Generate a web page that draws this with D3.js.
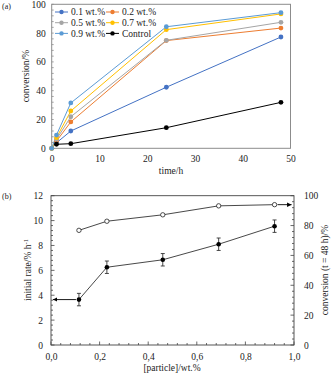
<!DOCTYPE html>
<html><head><meta charset="utf-8">
<script src="https://cdn.jsdelivr.net/npm/d3@7"></script>
<style>body{margin:0;background:#fff}svg text{font-family:"Liberation Serif","Times New Roman","DejaVu Serif",serif !important}</style>
</head><body><svg id="c" width="331" height="374" font-family="Liberation Serif"></svg>
<script>
// Panel (a)
const times = [0, 1, 4, 24, 48];
const seriesNames = ["0.1 wt.%", "0.2 wt.%", "0.5 wt.%", "0.7 wt.%", "0.9 wt.%", "Control"];
const seriesColors = ["#4472C4", "#ED7D31", "#A5A5A5", "#FFC000", "#5B9BD5", "#000000"];
const s01 = [0, 3.8, 12.0, 42.4, 77.3];
const s02 = [0, 5.0, 18.3, 74.8, 83.5];
const s05 = [0, 6.2, 21.9, 75.0, 87.5];
const s07 = [0, 7.4, 25.9, 82.4, 93.3];
const s09 = [0, 9.2, 31.5, 84.4, 94.2];
const sCtl = [null, 2.8, 3.2, 14.3, 31.9];
const aXTicks = [0, 10, 20, 30, 40, 50];
const aYTicks = [0, 20, 40, 60, 80, 100];
// Panel (b)
const particle = [0.115, 0.23, 0.46, 0.69, 0.92];
const initRate = [3.65, 6.25, 6.85, 8.1, 9.55];
const rateErr = [0.5, 0.5, 0.5, 0.5, 0.5];
const conv48 = [76.8, 82.9, 87.2, 93.2, 94.0];
const bXTicks = [0, 0.2, 0.4, 0.6, 0.8, 1.0];
const bYLeftTicks = [0, 2, 4, 6, 8, 10, 12];
const bYRightTicks = [0, 20, 40, 60, 80, 100];

const svg = d3.select("#c");
const fs = 9.5;
const FF = "Liberation Serif";

// ---------- Panel (a)
const ax = d3.scaleLinear().domain([0, 50]).range([51.7, 290.5]);
const ay = d3.scaleLinear().domain([0, 100]).range([148.3, 4.3]);
const ga = svg.append("g");
ga.append("rect").attr("x", ax(0)).attr("y", ay(100)).attr("width", ax(50) - ax(0)).attr("height", ay(0) - ay(100))
  .attr("fill", "none").attr("stroke", "#8c8c8c").attr("stroke-width", 1);
d3.range(0, 101, 4).forEach(v => {
  ga.append("line").attr("x1", ax(0)).attr("x2", ax(0) + 2).attr("y1", ay(v)).attr("y2", ay(v)).attr("stroke", "#8c8c8c").attr("stroke-width", 0.8);
});
const axB = d3.axisBottom(ax).tickValues(aXTicks).tickSize(0).tickPadding(7).tickFormat(d3.format("d"));
const gxA = ga.append("g").attr("transform", `translate(0,${ay(0)})`).call(axB).attr("font-family", FF);
gxA.select(".domain").remove();
gxA.selectAll("text").attr("font-size", fs).attr("fill", "#222");
const ayL = d3.axisLeft(ay).tickValues(aYTicks).tickSize(0).tickPadding(6).tickFormat(d3.format("d"));
const gyA = ga.append("g").attr("transform", `translate(${ax(0)},0)`).call(ayL).attr("font-family", FF);
gyA.select(".domain").remove();
gyA.selectAll("text").attr("font-size", fs).attr("fill", "#222");

const allSeries = [s01, s02, s05, s07, s09, sCtl];
const line = d3.line().defined(d => d[1] != null).x(d => ax(d[0])).y(d => ay(d[1]));
allSeries.forEach((s, i) => {
  const pts = times.map((t, j) => [t, s[j]]);
  ga.append("path").attr("d", line(pts)).attr("fill", "none").attr("stroke", seriesColors[i]).attr("stroke-width", 1);
});
allSeries.forEach((s, i) => {
  const pts = times.map((t, j) => [t, s[j]]).filter(d => d[1] != null);
  ga.selectAll(null).data(pts).enter().append("circle")
    .attr("cx", d => ax(d[0])).attr("cy", d => ay(d[1])).attr("r", 2.4).attr("fill", seriesColors[i]);
});
seriesNames.forEach((n, i) => {
  const col = i % 2, row = Math.floor(i / 2);
  const x0 = col === 0 ? 55 : 106, y0 = 12 + row * 10.7;
  ga.append("line").attr("x1", x0).attr("x2", x0 + 13).attr("y1", y0).attr("y2", y0).attr("stroke", seriesColors[i]).attr("stroke-width", 1);
  ga.append("circle").attr("cx", x0 + 6.5).attr("cy", y0).attr("r", 2.2).attr("fill", seriesColors[i]);
  ga.append("text").attr("x", x0 + 16).attr("y", y0 + 3.3).attr("font-size", fs).attr("font-family", FF).attr("fill", "#222").text(n);
});
ga.append("text").attr("x", 171).attr("y", 174).attr("text-anchor", "middle").attr("font-size", fs).attr("font-family", FF).attr("fill", "#222").text("time/h");
ga.append("text").attr("transform", `translate(29,76) rotate(-90)`).attr("text-anchor", "middle").attr("font-size", fs).attr("font-family", FF).attr("fill", "#222").text("conversion/%");
ga.append("text").attr("x", 2).attr("y", 9).attr("font-size", 8).attr("font-family", FF).attr("fill", "#222").text("(a)");

// ---------- Panel (b)
const bx = d3.scaleLinear().domain([0, 1]).range([51, 294]);
const byL = d3.scaleLinear().domain([0, 12]).range([345, 195.7]);
const byR = d3.scaleLinear().domain([0, 100]).range([345, 195.7]);
const gb = svg.append("g");
gb.append("rect").attr("x", bx(0)).attr("y", byL(12)).attr("width", bx(1) - bx(0)).attr("height", byL(0) - byL(12))
  .attr("fill", "none").attr("stroke", "#444").attr("stroke-width", 0.9);
d3.range(0, 1.001, 0.04).forEach(v => {
  gb.append("line").attr("x1", bx(v)).attr("x2", bx(v)).attr("y1", byL(0)).attr("y2", byL(0) - (Math.abs(v * 5 - Math.round(v * 5)) < 1e-6 ? 3.5 : 2)).attr("stroke", "#444").attr("stroke-width", 0.8);
});
d3.range(0, 12.001, 0.4).forEach(v => {
  gb.append("line").attr("x1", bx(0)).attr("x2", bx(0) + (Math.abs(v / 2 - Math.round(v / 2)) < 1e-6 ? 3.5 : 2)).attr("y1", byL(v)).attr("y2", byL(v)).attr("stroke", "#444").attr("stroke-width", 0.8);
});
d3.range(0, 100.001, 4).forEach(v => {
  gb.append("line").attr("x1", bx(1)).attr("x2", bx(1) - (v % 20 === 0 ? 3.5 : 2)).attr("y1", byR(v)).attr("y2", byR(v)).attr("stroke", "#444").attr("stroke-width", 0.8);
});
const fmtComma = d => d3.format(".1f")(d).replace(".", ",");
const gxB = gb.append("g").attr("transform", `translate(0,${byL(0)})`).call(d3.axisBottom(bx).tickValues(bXTicks).tickSize(0).tickPadding(8).tickFormat(fmtComma)).attr("font-family", FF);
gxB.select(".domain").remove();
gxB.selectAll("text").attr("font-size", fs).attr("fill", "#222");
const gyBL = gb.append("g").attr("transform", `translate(${bx(0)},0)`).call(d3.axisLeft(byL).tickValues(bYLeftTicks).tickSize(0).tickPadding(8).tickFormat(d3.format("d"))).attr("font-family", FF);
gyBL.select(".domain").remove();
gyBL.selectAll("text").attr("font-size", fs).attr("fill", "#222");
const gyBR = gb.append("g").attr("transform", `translate(${bx(1)},0)`).call(d3.axisRight(byR).tickValues(bYRightTicks).tickSize(0).tickPadding(10).tickFormat(d3.format("d"))).attr("font-family", FF);
gyBR.select(".domain").remove();
gyBR.selectAll("text").attr("font-size", fs).attr("fill", "#222");

const convLine = d3.line().x((d, i) => bx(particle[i])).y(d => byR(d));
gb.append("path").attr("d", convLine(conv48)).attr("fill", "none").attr("stroke", "#333").attr("stroke-width", 0.9);
const rateLine = d3.line().x((d, i) => bx(particle[i])).y(d => byL(d));
gb.append("path").attr("d", rateLine(initRate)).attr("fill", "none").attr("stroke", "#333").attr("stroke-width", 0.9);
particle.forEach((p, i) => {
  const x = bx(p), y1 = byL(initRate[i] - rateErr[i]), y2 = byL(initRate[i] + rateErr[i]);
  gb.append("line").attr("x1", x).attr("x2", x).attr("y1", y1).attr("y2", y2).attr("stroke", "#333").attr("stroke-width", 0.9);
  gb.append("line").attr("x1", x - 2).attr("x2", x + 2).attr("y1", y1).attr("y2", y1).attr("stroke", "#333").attr("stroke-width", 0.9);
  gb.append("line").attr("x1", x - 2).attr("x2", x + 2).attr("y1", y2).attr("y2", y2).attr("stroke", "#333").attr("stroke-width", 0.9);
});
gb.selectAll(null).data(initRate).enter().append("circle")
  .attr("cx", (d, i) => bx(particle[i])).attr("cy", d => byL(d)).attr("r", 2.3).attr("fill", "#000");
gb.selectAll(null).data(conv48).enter().append("circle")
  .attr("cx", (d, i) => bx(particle[i])).attr("cy", d => byR(d)).attr("r", 2.2).attr("fill", "#fff").attr("stroke", "#222").attr("stroke-width", 0.8);
const defs = svg.append("defs");
defs.append("marker").attr("id", "ah").attr("viewBox", "0 0 10 10").attr("refX", 10).attr("refY", 5)
  .attr("markerWidth", 5).attr("markerHeight", 5).attr("orient", "auto")
  .append("path").attr("d", "M0,0L10,5L0,10Z").attr("fill", "#000");
gb.append("line").attr("x1", bx(particle[0]) - 3).attr("x2", bx(0.008)).attr("y1", byL(initRate[0])).attr("y2", byL(initRate[0]))
  .attr("stroke", "#000").attr("stroke-width", 0.9).attr("marker-end", "url(#ah)");
gb.append("line").attr("x1", bx(particle[4]) + 3).attr("x2", bx(0.99)).attr("y1", byR(conv48[4])).attr("y2", byR(conv48[4]))
  .attr("stroke", "#000").attr("stroke-width", 0.9).attr("marker-end", "url(#ah)");

gb.append("text").attr("x", 172).attr("y", 371).attr("text-anchor", "middle").attr("font-size", fs).attr("font-family", FF).attr("fill", "#222").text("[particle]/wt.%");
gb.append("text").attr("transform", `translate(31,270) rotate(-90)`).attr("text-anchor", "middle").attr("font-size", fs).attr("font-family", FF).attr("fill", "#222")
  .html('initial rate/% h<tspan dy="-3" font-size="6.5">-1</tspan>');
gb.append("text").attr("transform", `translate(328,270) rotate(-90)`).attr("text-anchor", "middle").attr("font-size", fs).attr("font-family", FF).attr("fill", "#222").text("conversion (t = 48 h)/%");
gb.append("text").attr("x", 2).attr("y", 199).attr("font-size", 8).attr("font-family", FF).attr("fill", "#222").text("(b)");
</script></body></html>
